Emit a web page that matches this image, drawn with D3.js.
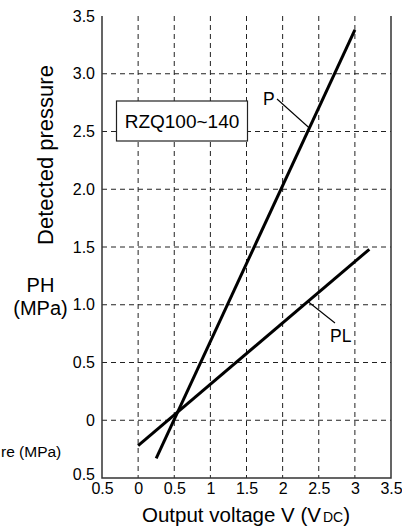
<!DOCTYPE html>
<html><head><meta charset="utf-8">
<script src="https://cdn.jsdelivr.net/npm/d3@7"></script>
<style>
html,body{margin:0;padding:0;background:#fff;}
svg{display:block;font-family:"Liberation Sans",Arial,Helvetica,sans-serif;}
</style></head>
<body><svg id="c" width="402" height="528"></svg>
<script>
// ---- data ----
const xTicks = [-0.5, 0, 0.5, 1, 1.5, 2, 2.5, 3, 3.5];
const xTickLabels = ["0.5", "0", "0.5", "1", "1.5", "2", "2.5", "3", "3.5"];
const yTicks = [-0.5, 0, 0.5, 1, 1.5, 2, 2.5, 3, 3.5];
const yTickLabels = ["0.5", "0", "0.5", "1.0", "1.5", "2.0", "2.5", "3.0", "3.5"];
const gridX = [0, 0.5, 1, 1.5, 2, 2.5, 3];
const gridY = [0, 0.5, 1, 1.5, 2, 2.5, 3];
const seriesP = [[0.25, -0.33], [3.0, 3.38]];
const seriesPL = [[0.0, -0.22], [3.2, 1.48]];
const modelLabel = "RZQ100~140";

// ---- layout ----
const svg = d3.select("#c");
const x = d3.scaleLinear().domain([-0.5, 3.5]).range([102, 391]);
const y = d3.scaleLinear().domain([-0.5, 3.5]).range([478, 16]);
const FS = 16;

// grid
const g = svg.append("g").attr("stroke", "#222").attr("stroke-width", 1).attr("stroke-dasharray", "5,4");
g.selectAll("line.v").data(gridX).join("line").attr("class", "v")
  .attr("x1", d => x(d)).attr("x2", d => x(d)).attr("y1", y(3.5)).attr("y2", y(-0.5));
g.selectAll("line.h").data(gridY).join("line").attr("class", "h")
  .attr("x1", x(-0.5)).attr("x2", x(3.5)).attr("y1", d => y(d)).attr("y2", d => y(d));

// frame (left, bottom, right)
svg.append("path").attr("fill", "none").attr("stroke", "#333").attr("stroke-width", 1.5)
  .attr("d", `M${x(-0.5)},${y(3.5)}V${y(-0.5)}H${x(3.5)}V${y(3.5)}`);

// axes
const xAxis = d3.axisBottom(x).tickValues(xTicks).tickSize(0).tickPadding(5)
  .tickFormat((d, i) => xTickLabels[i]);
const gx = svg.append("g").attr("transform", `translate(0,${y(-0.5)})`).call(xAxis);
gx.select(".domain").remove();
gx.selectAll("text").attr("font-size", FS).attr("fill", "#000").attr("font-family", null);

const yAxis = d3.axisLeft(y).tickValues(yTicks).tickSize(0).tickPadding(7)
  .tickFormat((d, i) => yTickLabels[i]);
const gy = svg.append("g").attr("transform", `translate(${x(-0.5)},0)`).call(yAxis);
gy.select(".domain").remove();
gy.selectAll("text").attr("font-size", FS).attr("fill", "#000").attr("font-family", null)
  .attr("transform", d => d === -0.5 ? "translate(0,-4)" : null);

// model box
const bx0 = 116.5, by0 = 101, bw = 131, bh = 40;
svg.append("rect").attr("x", bx0).attr("y", by0).attr("width", bw).attr("height", bh)
  .attr("fill", "#fff").attr("stroke", "#222").attr("stroke-width", 1.2);
svg.append("text").attr("x", bx0 + bw / 2).attr("y", by0 + bh / 2 + 7)
  .attr("text-anchor", "middle").attr("font-size", 19).text(modelLabel);

// series lines
const line = d3.line().x(d => x(d[0])).y(d => y(d[1]));
svg.append("path").datum(seriesP).attr("d", line).attr("fill", "none").attr("stroke", "#000").attr("stroke-width", 3);
svg.append("path").datum(seriesPL).attr("d", line).attr("fill", "none").attr("stroke", "#000").attr("stroke-width", 3);

// series labels with leaders
function onLine(s, xv) { const [a, b] = s; return a[1] + (xv - a[0]) * (b[1] - a[1]) / (b[0] - a[0]); }
const pX = 2.37, plX = 2.35;
svg.append("line").attr("x1", 277).attr("y1", 99).attr("x2", x(pX)).attr("y2", y(onLine(seriesP, pX)))
  .attr("stroke", "#000").attr("stroke-width", 1.1);
svg.append("text").attr("x", 263).attr("y", 104.5).attr("font-size", 17.5).text("P");
svg.append("line").attr("x1", x(plX)).attr("y1", y(onLine(seriesPL, plX))).attr("x2", 335).attr("y2", 323)
  .attr("stroke", "#000").attr("stroke-width", 1.1);
svg.append("text").attr("x", 330).attr("y", 342).attr("font-size", 17.5).text("PL");

// axis titles
svg.append("text").attr("transform", "translate(52.5,155) rotate(-90)").attr("text-anchor", "middle")
  .attr("font-size", 22).text("Detected pressure");
svg.append("text").attr("x", 40.5).attr("y", 292).attr("text-anchor", "middle").attr("font-size", 20).text("PH");
svg.append("text").attr("x", 40.5).attr("y", 315).attr("text-anchor", "middle").attr("font-size", 20).text("(MPa)");
svg.append("text").attr("x", 1).attr("y", 457).attr("font-size", 15.5).text("re (MPa)");

const xt = svg.append("text").attr("x", 246).attr("y", 521.5).attr("text-anchor", "middle").attr("font-size", 20.5);
xt.append("tspan").text("Output voltage V (V");
xt.append("tspan").attr("font-size", 14).attr("dx", 2).text("DC");
xt.append("tspan").text(")");
</script></body></html>
